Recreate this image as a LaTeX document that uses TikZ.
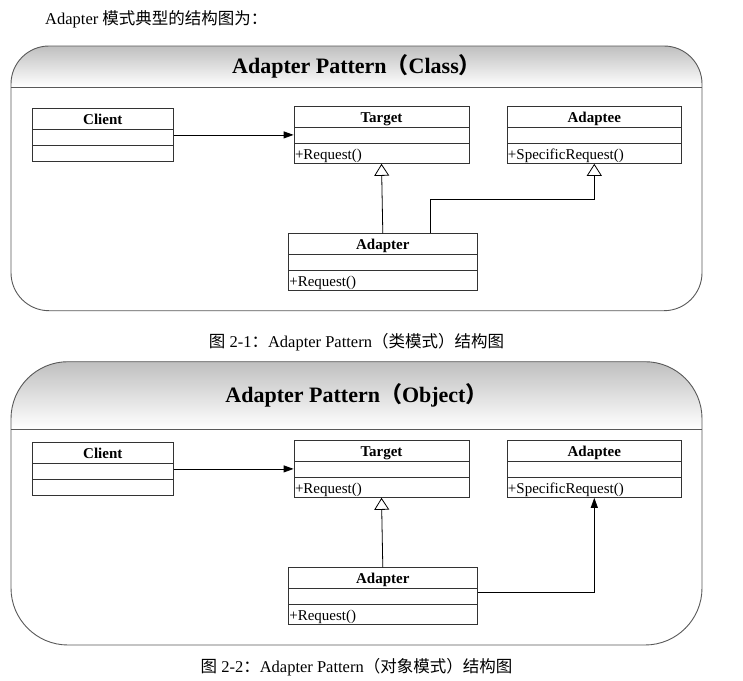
\documentclass[tikz,border=0pt]{standalone}
\usepackage{fontspec}
\setmainfont{Liberation Serif}
\newfontfamily\cjk{Noto Sans CJK SC}
\usetikzlibrary{arrows.meta,shapes.multipart}

% chiều cao các ngăn của lớp
\newcommand{\otieude}{\rule[-5pt]{0pt}{20.2pt}}
\newcommand{\otrong}{\rule{0pt}{14.7pt}}
\newcommand{\ophuongthuc}{\rule[-4pt]{0pt}{19.7pt}}

\tikzset{
  lop/.style={rectangle split, rectangle split parts=3,
    rectangle split part align={center,left,left},
    draw=black!80, line width=0.8pt, inner xsep=1pt, inner ysep=0pt,
    anchor=north, font=\fontsize{15}{18}\selectfont},
  khung/.style={draw=black!65, line width=0.9pt},
  chu/.style={font=\fontsize{16.5}{20}\selectfont},
  muiten/.style={-{Triangle[length=10pt,width=7pt]}, line width=0.8pt},
  kethua/.style={-{Triangle[open,length=12pt,width=15pt]}, line width=0.8pt},
}

\begin{document}
\begin{tikzpicture}[x=1pt, y=-1pt]
\fill[white] (0,0) rectangle (743,680);
\useasboundingbox (0,0) rectangle (743,680);

% Dòng mở đầu
\node[chu, anchor=west, inner sep=0pt] (dongdau) at (45,19) {Adapter {\cjk 模式典型的结构图为：}};

% Khung ngoài, tiêu đề và chú thích
\foreach \so/\tren/\giua/\duoi/\bk/\kieu/\loai/\yc in
  {1/46/87/310.7/38pt/Class/类模式/342, 2/361.7/429/645/57pt/Object/对象模式/666.7} {
  \shade[top color=gray!50, bottom color=white]
    (11,\giua) [rounded corners=\bk] -- (11,\tren) -- (702,\tren) [sharp corners] -- (702,\giua) -- cycle;
  \draw[khung, rounded corners=\bk] (11,\tren) rectangle (702,\duoi);
  \draw[khung] (11,\giua) -- (702,\giua);
  \node[font=\bfseries\fontsize{22}{26}\selectfont] (tieude\so) at (356.5,{(\tren+\giua)/2})
    {Adapter Pattern{\cjk （}\kieu{\cjk ）}};
  \node[chu] (chuthich\so) at (356.5,\yc)
    {{\cjk 图} 2-\so{\cjk ：}Adapter Pattern{\cjk （\loai）结构图}};
}

% Các lớp
\foreach \so/\dy in {1/0, 2/334} {
  \node[lop, minimum width=141pt] (client\so) at (102.8,108.3+\dy)
    {\otieude\textbf{Client}\nodepart{two}\rule{0pt}{14.9pt}\nodepart{three}\rule{0pt}{14.9pt}};
  \node[lop, minimum width=175pt] (target\so) at (381.5,106+\dy)
    {\otieude\textbf{Target}\nodepart{two}\otrong\nodepart{three}\ophuongthuc+Request()};
  \node[lop, minimum width=174.7pt] (adaptee\so) at (594.3,106+\dy)
    {\otieude\textbf{Adaptee}\nodepart{two}\otrong\nodepart{three}\ophuongthuc+SpecificRequest()};
  \node[lop, minimum width=189pt] (adapter\so) at (382.8,233.3+\dy)
    {\otieude\textbf{Adapter}\nodepart{two}\otrong\nodepart{three}\ophuongthuc+Request()};
  \draw[muiten] (client\so.east |- target\so.west) -- (target\so.west);
  \draw[kethua] (adapter\so.north) -- (target\so.south);
}

% Adapter -> Adaptee
\draw[kethua] ([xshift=47.5pt]adapter1.north) -- ++(0,-34) -| (adaptee1.south);
\draw[muiten] ([yshift=3.5pt]adapter2.east) -| (adaptee2.south);
\end{tikzpicture}
\end{document}
